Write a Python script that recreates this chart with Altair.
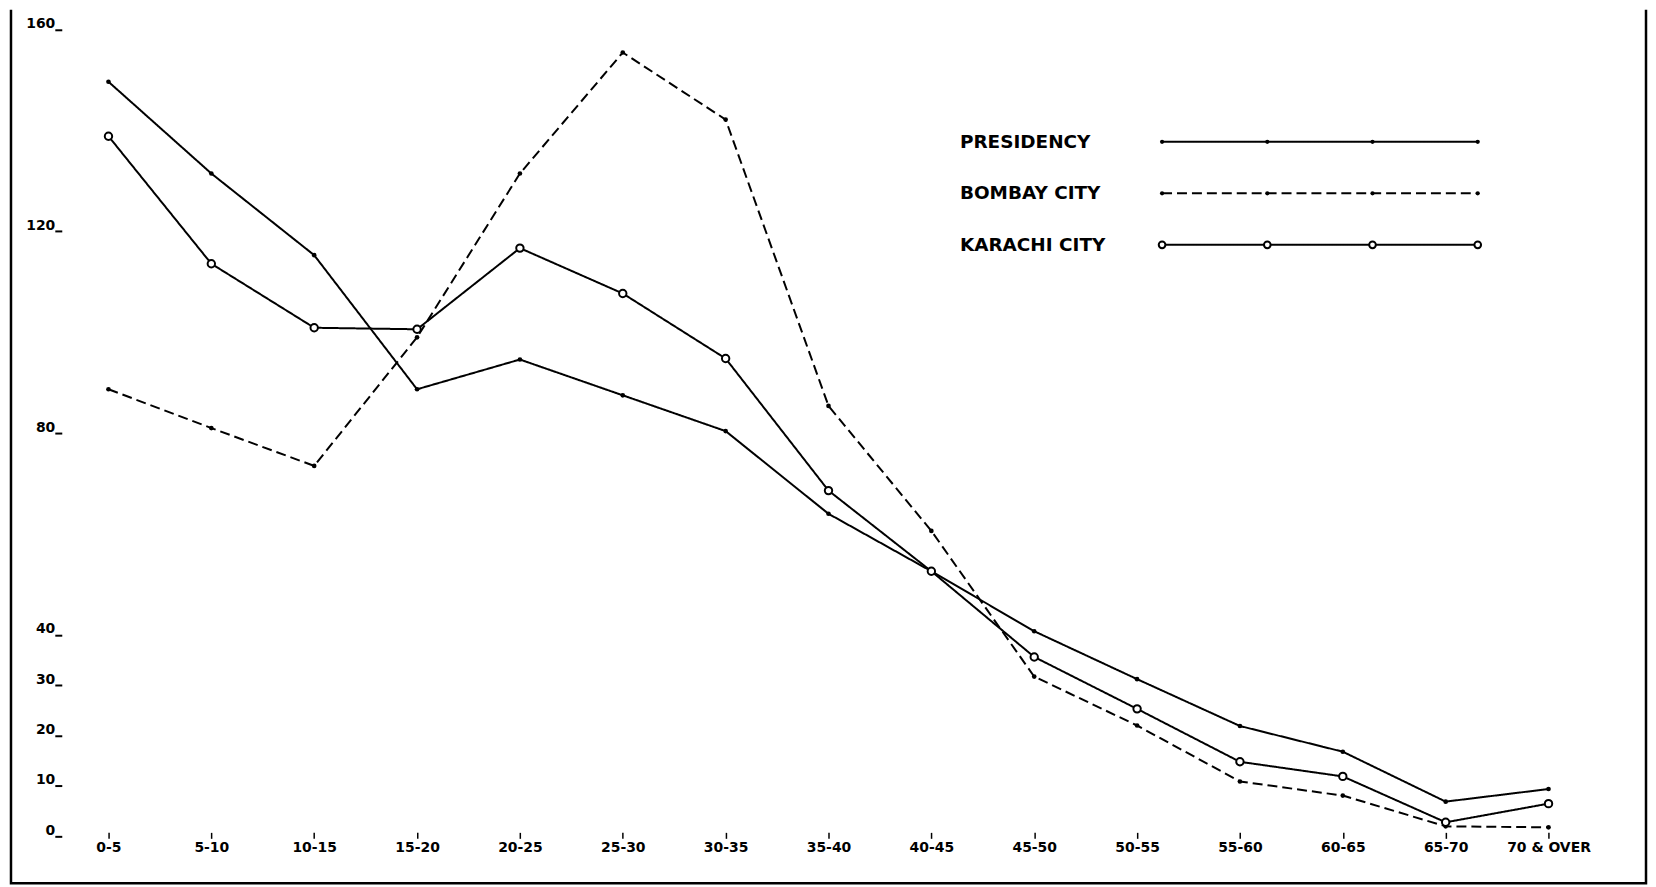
import altair as alt
import pandas as pd

# ---------------- data ----------------
age_groups = ["0-5", "5-10", "10-15", "15-20", "20-25", "25-30", "30-35", "35-40",
              "40-45", "45-50", "50-55", "55-60", "60-65", "65-70", "70 & OVER"]
presidency = [148.7, 130.5, 114.3, 87.7, 93.6, 86.5, 79.4, 63.0, 51.6, 39.7, 30.2, 20.9, 15.8, 5.9, 8.4]
bombay_city = [87.7, 80.0, 72.5, 98.0, 130.5, 154.5, 141.2, 84.4, 59.6, 30.7, 21.0, 9.9, 7.1, 1.0, 0.8]
karachi_city = [137.9, 112.6, 99.9, 99.6, 115.7, 106.7, 93.8, 67.6, 51.6, 34.6, 24.3, 13.8, 10.9, 1.8, 5.5]
series_names = ["PRESIDENCY", "BOMBAY CITY", "KARACHI CITY"]
y_tick_values = [0, 10, 20, 30, 40, 80, 120, 160]
legend_marker_slots = [0, 1, 2, 3]

rows = []
for name, vals in zip(series_names, [presidency, bombay_city, karachi_city]):
    for age, v in zip(age_groups, vals):
        rows.append({"age": age, "value": v, "series": name})
df = pd.DataFrame(rows)

label_df = pd.DataFrame({"series": series_names, "row": list(range(len(series_names)))})
legend_df = pd.DataFrame([{"series": s, "row": i, "slot": k}
                          for i, s in enumerate(series_names) for k in legend_marker_slots])

W, H = 1642, 877
FONT = "DejaVu Sans"

dash_scale = alt.Scale(domain=series_names, range=[[1, 0], [10, 5], [1, 0]])

# ---------------- main plot ----------------
x_enc = alt.X("age:N", sort=age_groups,
              scale=alt.Scale(type="point", padding=0.9477),
              axis=alt.Axis(title=None, labelAngle=0, domain=False, grid=False, offset=-51,
                            tickSize=6, tickWidth=1.5, tickColor="black", labelPadding=2,
                            labelOverlap=False, labelFlush=False, labelFont=FONT,
                            labelFontWeight="bold", labelFontSize=14, labelColor="black"))
y_enc = alt.Y("value:Q",
              scale=alt.Scale(domain=[-10.27, 162.96], nice=False, zero=False),
              axis=alt.Axis(title=None, values=y_tick_values, domain=False, grid=False,
                            offset=-51, tickSize=7, tickWidth=2, tickColor="black",
                            tickOffset=5, labelOffset=-6, labelPadding=0, labelFont=FONT,
                            labelFontWeight="bold", labelFontSize=14, labelColor="black"))

base = alt.Chart(df)

lines = base.mark_line(color="black", strokeWidth=2).encode(
    x=x_enc, y=y_enc,
    strokeDash=alt.StrokeDash("series:N", scale=dash_scale, legend=None),
    detail="series:N",
)

dots = base.transform_filter(
    alt.FieldOneOfPredicate(field="series", oneOf=["PRESIDENCY", "BOMBAY CITY"])
).mark_point(filled=True, color="black", size=22, opacity=1).encode(x=x_enc, y=y_enc)

circles = base.transform_filter(
    alt.FieldEqualPredicate(field="series", equal="KARACHI CITY")
).mark_point(shape="circle", filled=True, fill="white", stroke="black", strokeWidth=2,
             size=55, opacity=1).encode(x=x_enc, y=y_enc)

main = alt.layer(lines, dots, circles)

# ---------------- key (drawn through its own scales) ----------------
lx = alt.X("slot:Q", scale=alt.Scale(domain=[0, 3], range=[1156, 1473]), axis=None)
ly = alt.Y("row:Q", scale=alt.Scale(domain=[0, 2], range=[132.5, 236]), axis=None)

key_text = alt.Chart(label_df).mark_text(
    align="left", baseline="middle", font=FONT, fontSize=18.5, fontWeight="bold", color="black"
).encode(x=alt.value(953), y=ly, text="series:N")

key_lines = alt.Chart(legend_df).mark_line(color="black", strokeWidth=2).encode(
    x=lx, y=ly, detail="series:N",
    strokeDash=alt.StrokeDash("series:N", scale=dash_scale, legend=None),
)

key_dots = alt.Chart(legend_df).transform_filter(
    alt.FieldOneOfPredicate(field="series", oneOf=["PRESIDENCY", "BOMBAY CITY"])
).mark_point(filled=True, color="black", size=18, opacity=1).encode(x=lx, y=ly)

key_circles = alt.Chart(legend_df).transform_filter(
    alt.FieldEqualPredicate(field="series", equal="KARACHI CITY")
).mark_point(shape="circle", filled=True, fill="white", stroke="black", strokeWidth=2,
             size=45, opacity=1).encode(x=lx, y=ly)

key = alt.layer(key_text, key_lines, key_dots, key_circles)

chart = alt.layer(main, key).resolve_scale(
    x="independent", y="independent"
).properties(
    width=W, height=H,
    autosize=alt.AutoSizeParams(type="none"),
    padding={"left": 3, "top": 0, "right": 2, "bottom": 2},
    background="white",
).configure_view(
    stroke="black", strokeWidth=2.5, strokeDash=[0, W, H + W + H, 0]
)

chart.save("out.html", embed_options={"renderer": "svg", "actions": False})
